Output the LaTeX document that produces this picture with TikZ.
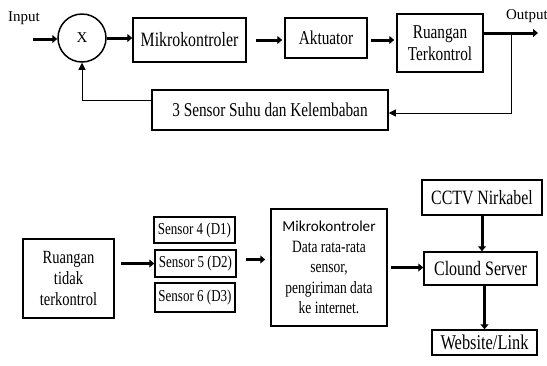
\documentclass[tikz,border=0pt]{standalone}
\usepackage{fontspec}
\setmainfont{Liberation Serif}
\newfontfamily\cond[FakeStretch=0.78]{Liberation Serif}
\newfontfamily\calfont{Carlito}
\usetikzlibrary{arrows.meta}
\newcommand{\fs}[2]{\fontsize{#1}{#2}\selectfont}
\begin{document}
\begin{tikzpicture}[x=1pt,y=-1pt,
  box/.style={draw, line width=1.5pt, inner sep=0pt, align=center, font=\cond\fs{19.6}{22}},
  sbox/.style={draw, line width=1.5pt, inner sep=0pt, align=center, font=\cond\fs{16.7}{18}},
  arr/.style={line width=3pt, -{Triangle[length=5pt,width=8pt]}},
  thinarr/.style={line width=0.8pt, -{Triangle[length=7pt,width=7pt]}},
  lbl/.style={inner sep=0pt, font=\fs{15}{18}}]
\useasboundingbox (0,0) rectangle (547,365);
% top loop
\node[lbl] (in) at (24,18) {Input};
\coordinate (inS) at (33,39);
\node[draw, circle, line width=1.5pt, minimum size=48pt, inner sep=0pt, font=\fs{15}{18}] (x) at (82,38) {X};
\node[box, minimum width=113pt, minimum height=44pt, font=\cond\fs{20.3}{22}] (mk) at (189.5,40) {Mikrokontroler};
\node[box, minimum width=82pt, minimum height=40pt] (akt) at (326,38) {Aktuator};
\node[box, minimum width=86pt, minimum height=58pt] (rt) at (440,43) {Ruangan\\Terkontrol};
\node[box, minimum width=236pt, minimum height=40pt] (sens) at (270,110) {3 Sensor Suhu dan Kelembaban};
\node[lbl] (out) at (527,16) {Output};
\coordinate (outE) at (538,33);
\coordinate (fb) at (511,33);
\draw[arr] (inS) -- (inS -| x.west);
\draw[arr] (x.east) -- (x.east -| mk.west);
\draw[arr, shorten <=9pt, shorten >=2pt] (mk.east) -- (mk.east -| akt.west);
\draw[arr, shorten <=3pt, shorten >=2pt] ([yshift=-2pt]akt.east) -- ([yshift=-2pt]akt.east -| rt.west);
\draw[arr] (rt.east |- outE) -- (outE);
\draw[thinarr] (fb) |- ([yshift=-3pt]sens.east);
\draw[thinarr] ([yshift=10pt]sens.west) -| (x.south);
% bottom
\node[box, minimum width=91pt, minimum height=79pt, font=\cond\fs{18.6}{21}] (rtk) at (68.5,278.5) {Ruangan\\tidak\\terkontrol};
\node[sbox, minimum width=81pt, minimum height=26pt] (s4) at (194.5,230) {Sensor 4 (D1)};
\node[sbox, minimum width=81pt, minimum height=27pt] (s5) at (195.5,263.5) {Sensor 5 (D2)};
\node[sbox, minimum width=80pt, minimum height=29pt] (s6) at (195,297.5) {Sensor 6 (D3)};
\node[box, minimum width=116pt, minimum height=117pt, font=\cond\fs{17.3}{20.5}] (mk2) at (329,267.5) {{\calfont\fs{15.2}{20.5}Mikrokontroler}\\Data rata-rata\\sensor,\\pengiriman data\\ke internet.};
\node[box, minimum width=113pt, minimum height=33pt, font=\cond\fs{20.5}{22}] (cs) at (480.5,268.5) {Clound Server};
\node[box, minimum width=120pt, minimum height=35pt, font=\cond\fs{20.3}{22}] (cctv) at (482,197.5) {CCTV Nirkabel};
\node[box, minimum width=105pt, minimum height=25pt, font=\cond\fs{21}{22}] (web) at (484.5,342.5) {Website/Link};
\draw[arr, shorten <=6pt] (rtk.east |- s5.west) -- (s5.west);
\draw[arr, shorten <=9pt, shorten >=5pt] ([yshift=4pt]s5.east) -- ([yshift=4pt]s5.east -| mk2.west);
\draw[arr, shorten <=3pt] (mk2.east) -- (mk2.east -| cs.west);
\draw[arr] (cctv.south) -- (cctv.south |- cs.north);
\draw[arr] ([xshift=4pt]cs.south) -- ([xshift=4pt]cs.south |- web.north);
\end{tikzpicture}
\end{document}
